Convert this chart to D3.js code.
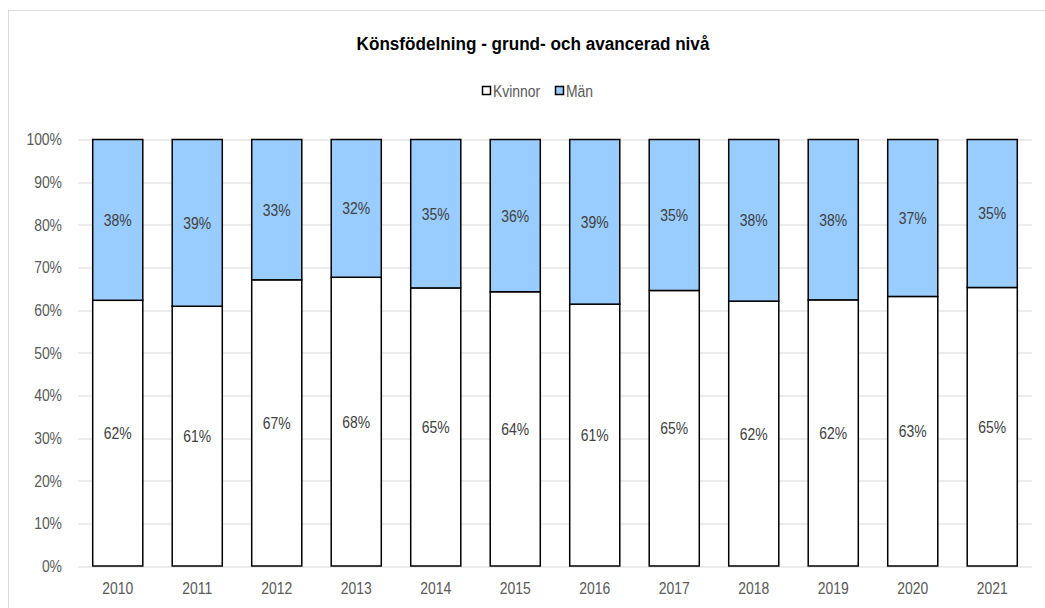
<!DOCTYPE html>
<html>
<head>
<meta charset="utf-8">
<script src="https://cdn.jsdelivr.net/npm/d3@7"></script>
<style>
  body { margin: 0; background: #fff; }
  text { font-family: "Liberation Sans", Arial, sans-serif; }
</style>
</head>
<body>
<div id="chart"></div>
<script>
// data (share of students, 0-1)
var years = ["2010", "2011", "2012", "2013", "2014", "2015", "2016", "2017", "2018", "2019", "2020", "2021"];
var kvinnor = [0.623, 0.609, 0.671, 0.677, 0.652, 0.643, 0.614, 0.646, 0.621, 0.624, 0.632, 0.653];
var man = [0.377, 0.391, 0.329, 0.323, 0.348, 0.357, 0.386, 0.354, 0.379, 0.376, 0.368, 0.347];
var yTicks = [0, 0.1, 0.2, 0.3, 0.4, 0.5, 0.6, 0.7, 0.8, 0.9, 1];

var seriesNames = ["Kvinnor", "Män"];
var colors = { "Kvinnor": "#ffffff", "Män": "#99ccff" };

var svgWidth = 1045;
var svgHeight = 608;

var margin = { top: 139.5, right: 13, bottom: 42, left: 78 };
var width = svgWidth - margin.left - margin.right;
var height = svgHeight - margin.top - margin.bottom;

// no narrow font here, so squeeze the text horizontally like Arial Narrow
var narrow = 0.82;
function squeeze(sel, sx) {
    sel.each(function() {
        var t = d3.select(this);
        var x = +t.attr("x") || 0;
        t.attr("x", x / sx).attr("transform", `scale(${sx},1)`);
    });
}

var svg = d3.select("#chart")
    .append("svg")
    .attr("width", svgWidth)
    .attr("height", svgHeight);

// outer chart frame
svg.append("rect")
    .attr("x", 8.5)
    .attr("y", 10.5)
    .attr("width", svgWidth + 10)
    .attr("height", svgHeight + 10)
    .attr("fill", "none")
    .attr("stroke", "#d9d9d9")
    .attr("stroke-width", 1);

// title
var title = svg.append("text")
    .attr("x", 533)
    .attr("y", 50)
    .attr("text-anchor", "middle")
    .attr("font-size", "19px")
    .attr("font-weight", "bold")
    .attr("fill", "#000")
    .text("Könsfödelning - grund- och avancerad nivå");

var tw = title.node().getComputedTextLength();
squeeze(title, tw > 0 ? Math.min(1, 353 / tw) : narrow);

// legend
var legendX = [482, 555];
var legend = svg.selectAll(".legend")
    .data(seriesNames)
    .enter()
    .append("g")
    .attr("class", "legend")
    .attr("transform", (d, i) => `translate(${legendX[i]}, 86)`);

legend.append("rect")
    .attr("x", 0.5)
    .attr("y", 0.5)
    .attr("width", 8)
    .attr("height", 8)
    .attr("fill", d => colors[d])
    .attr("stroke", "#000")
    .attr("stroke-width", 1.5);

legend.append("text")
    .attr("x", 11)
    .attr("y", 11)
    .attr("font-size", "17px")
    .attr("fill", "#595959")
    .text(d => d)
    .call(squeeze, narrow);

var chartGroup = svg.append("g")
    .attr("transform", `translate(${margin.left}, ${margin.top})`);

var xScale = d3.scaleBand()
    .domain(years)
    .range([0, width])
    .paddingInner(0.37)
    .paddingOuter(0.185);

var yScale = d3.scaleLinear()
    .domain([0, 1])
    .range([height, 0]);

// gridlines
chartGroup.selectAll(".grid")
    .data(yTicks)
    .enter()
    .append("line")
    .attr("class", "grid")
    .attr("x1", 0)
    .attr("x2", width)
    .attr("y1", d => Math.round(yScale(d)) + 0.5)
    .attr("y2", d => Math.round(yScale(d)) + 0.5)
    .attr("stroke", "#d9d9d9")
    .attr("stroke-width", 1);

// y axis labels
var leftAxis = d3.axisLeft(yScale)
    .tickValues(yTicks)
    .tickFormat(d3.format(".0%"))
    .tickSize(0)
    .tickPadding(16);

chartGroup.append("g")
    .attr("class", "yaxis")
    .call(leftAxis)
    .call(g => g.select(".domain").remove());

// x axis labels
var bottomAxis = d3.axisBottom(xScale)
    .tickSize(0)
    .tickPadding(16);

chartGroup.append("g")
    .attr("class", "xaxis")
    .attr("transform", `translate(0, ${height})`)
    .call(bottomAxis)
    .call(g => g.select(".domain").remove());

// let the css font apply to the axes
chartGroup.selectAll(".xaxis, .yaxis").attr("font-family", null).attr("font-size", null);
chartGroup.selectAll(".xaxis text, .yaxis text")
    .attr("font-size", "17px")
    .attr("fill", "#595959")
    .call(squeeze, narrow);

// stacked data
var rows = years.map((y, i) => ({ year: y, "Kvinnor": kvinnor[i], "Män": man[i] }));
var stacked = d3.stack().keys(seriesNames)(rows);

var layers = chartGroup.selectAll(".layer")
    .data(stacked)
    .enter()
    .append("g")
    .attr("class", "layer")
    .attr("fill", d => colors[d.key]);

layers.selectAll("rect")
    .data(d => d)
    .enter()
    .append("rect")
    .attr("x", d => xScale(d.data.year))
    .attr("y", d => yScale(d[1]))
    .attr("width", xScale.bandwidth())
    .attr("height", d => yScale(d[0]) - yScale(d[1]))
    .attr("stroke", "#000")
    .attr("stroke-width", 1.5);

// data labels
layers.selectAll(".lbl")
    .data(d => d.map(p => ({ p: p, key: d.key })))
    .enter()
    .append("text")
    .attr("class", "lbl")
    .attr("x", d => xScale(d.p.data.year) + xScale.bandwidth() / 2)
    .attr("y", d => (yScale(d.p[0]) + yScale(d.p[1])) / 2 + 6)
    .attr("text-anchor", "middle")
    .attr("font-size", "17px")
    .attr("fill", "#404040")
    .text(d => d3.format(".0%")(d.p.data[d.key]))
    .call(squeeze, narrow);
</script>
</body>
</html>
